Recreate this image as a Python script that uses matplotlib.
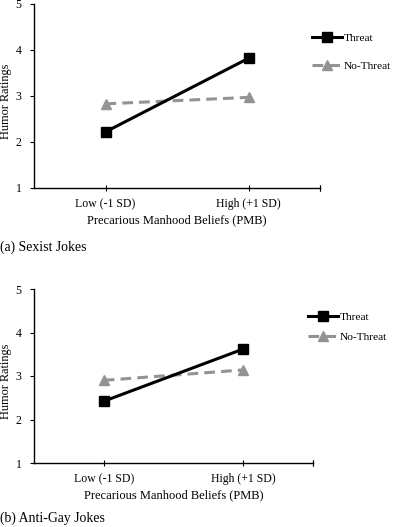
import matplotlib
matplotlib.use("Agg")
import matplotlib.pyplot as plt

categories = ["Low (-1 SD)", "High (+1 SD)"]
threat_a = [2.22, 3.82]
nothreat_a = [2.83, 2.97]
threat_b = [2.42, 3.62]
nothreat_b = [2.90, 3.14]
yticks = [1, 2, 3, 4, 5]
xlabel = "Precarious Manhood Beliefs (PMB)"
ylabel = "Humor Ratings"
captions = ["(a) Sexist Jokes", "(b) Anti-Gay Jokes"]

plt.rcParams['font.family'] = ['Liberation Serif', 'DejaVu Serif']
FS = 8.5

fig = plt.figure(figsize=(3.93, 5.27), dpi=100)
W, H = 393, 527

def make_panel(rect, threat, nothreat, caption, cap_y, leg_pos, lspace):
    ax = fig.add_axes(rect)
    x = range(len(categories))
    ax.plot(x, threat, color='black', lw=2.2, marker='s', ms=7, label='Threat', zorder=3)
    ax.plot(x, nothreat, color='#939393', lw=2.2, ls=(0, (3.5, 2)), marker='^', ms=6.5,
            label='No-Threat', zorder=2)
    ax.set_xlim(-0.5, 1.5)
    ax.set_ylim(1, 5)
    ax.set_yticks(yticks)
    ax.set_xticks(list(x))
    ax.set_xticklabels(categories, fontsize=FS)
    ax.tick_params(axis='y', labelsize=FS, length=3, width=0.8, direction='out', pad=6)
    ax.tick_params(axis='x', length=5, width=0.8, direction='inout', pad=5)
    for s in ['top', 'right']:
        ax.spines[s].set_visible(False)
    for s in ['left', 'bottom']:
        ax.spines[s].set_linewidth(1.0)
    ax.set_xlabel(xlabel, fontsize=FS + 0.5, labelpad=3)
    ax.set_ylabel(ylabel, fontsize=FS + 0.3)
    bb_w = rect[2] * W
    ax.yaxis.set_label_coords(-21.5 / bb_w, 0.47)
    ax.plot([1.5, 1.5], [1, 1], marker='|', ms=5, color='black', mew=0.8, clip_on=False)
    ax.legend(loc='upper left', bbox_to_anchor=leg_pos, bbox_transform=fig.transFigure,
              frameon=False, fontsize=FS - 0.3, handlelength=2.6, handletextpad=0.2,
              labelspacing=lspace, borderaxespad=0, borderpad=0)
    fig.text(0.0, cap_y, caption, fontsize=FS + 1.4, ha='left', va='center')
    return ax

make_panel([34 / W, 1 - 188 / H, (320 - 34) / W, (188 - 4) / H], threat_a, nothreat_a,
           captions[0], 1 - 247 / H, (312 / W, 1 - 33 / H), 1.6)
make_panel([34 / W, 1 - 463 / H, (313 - 34) / W, (463 - 289) / H], threat_b, nothreat_b,
           captions[1], 1 - 518 / H, (308 / W, 1 - 312 / H), 0.9)

fig.savefig("out.png", dpi=100)
